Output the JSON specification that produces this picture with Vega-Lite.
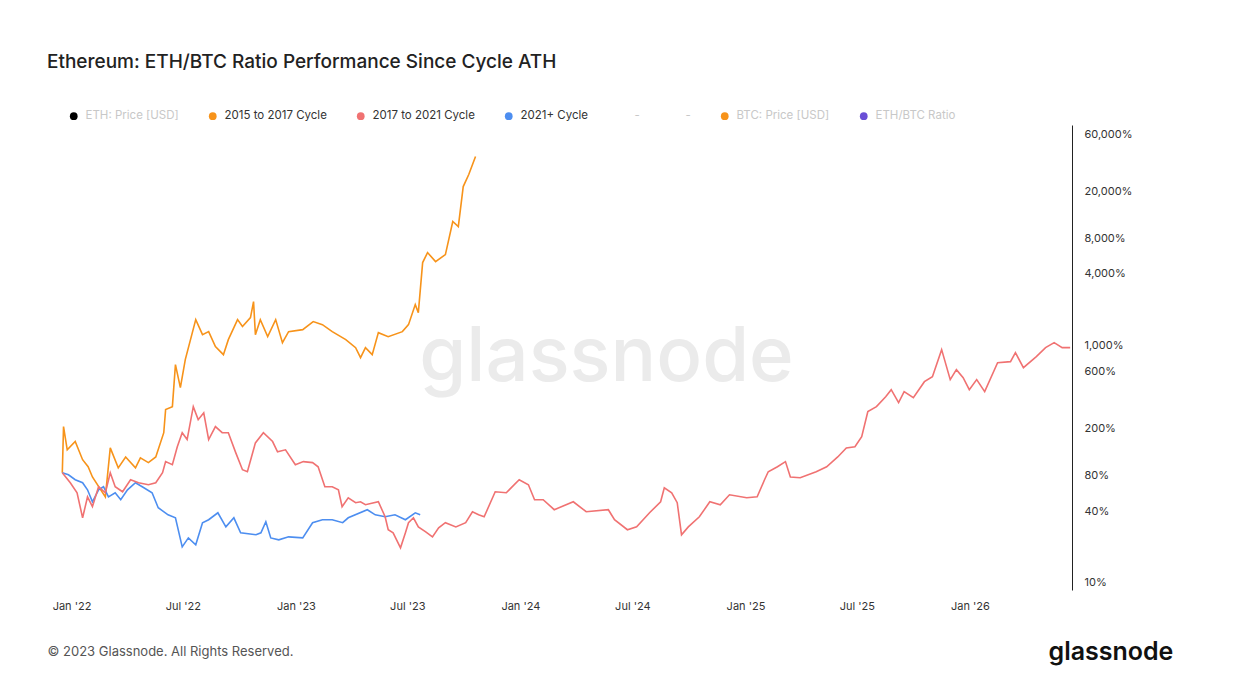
{
  "$schema": "https://vega.github.io/schema/vega-lite/v6.json",
  "width": 1014,
  "height": 465,
  "autosize": "none",
  "padding": {"left": 58, "top": 125, "right": 179, "bottom": 107},
  "background": "white",
  "config": {
    "font": "Inter",
    "view": {"stroke": null}
  },
  "title": {
    "text": "Ethereum: ETH/BTC Ratio Performance Since Cycle ATH",
    "anchor": "start",
    "frame": "group",
    "dx": -11,
    "offset": 38,
    "fontSize": 19,
    "fontWeight": 500,
    "color": "#222"
  },
  "data": {
    "values": [
      {"d": "2021-12-17", "s": "2015 to 2017 Cycle", "v": 84.6},
      {"d": "2021-12-19", "s": "2015 to 2017 Cycle", "v": 207},
      {"d": "2021-12-25", "s": "2015 to 2017 Cycle", "v": 132},
      {"d": "2022-01-07", "s": "2015 to 2017 Cycle", "v": 155},
      {"d": "2022-01-19", "s": "2015 to 2017 Cycle", "v": 109},
      {"d": "2022-01-28", "s": "2015 to 2017 Cycle", "v": 95},
      {"d": "2022-02-04", "s": "2015 to 2017 Cycle", "v": 78},
      {"d": "2022-02-25", "s": "2015 to 2017 Cycle", "v": 53},
      {"d": "2022-03-05", "s": "2015 to 2017 Cycle", "v": 137},
      {"d": "2022-03-18", "s": "2015 to 2017 Cycle", "v": 93},
      {"d": "2022-03-30", "s": "2015 to 2017 Cycle", "v": 115},
      {"d": "2022-04-15", "s": "2015 to 2017 Cycle", "v": 93},
      {"d": "2022-04-23", "s": "2015 to 2017 Cycle", "v": 113},
      {"d": "2022-05-06", "s": "2015 to 2017 Cycle", "v": 103},
      {"d": "2022-05-18", "s": "2015 to 2017 Cycle", "v": 115},
      {"d": "2022-05-31", "s": "2015 to 2017 Cycle", "v": 184},
      {"d": "2022-06-03", "s": "2015 to 2017 Cycle", "v": 288},
      {"d": "2022-06-14", "s": "2015 to 2017 Cycle", "v": 305},
      {"d": "2022-06-19", "s": "2015 to 2017 Cycle", "v": 689},
      {"d": "2022-06-27", "s": "2015 to 2017 Cycle", "v": 441},
      {"d": "2022-07-05", "s": "2015 to 2017 Cycle", "v": 759},
      {"d": "2022-07-22", "s": "2015 to 2017 Cycle", "v": 1650},
      {"d": "2022-08-02", "s": "2015 to 2017 Cycle", "v": 1233},
      {"d": "2022-08-12", "s": "2015 to 2017 Cycle", "v": 1307},
      {"d": "2022-08-23", "s": "2015 to 2017 Cycle", "v": 977},
      {"d": "2022-09-05", "s": "2015 to 2017 Cycle", "v": 836},
      {"d": "2022-09-13", "s": "2015 to 2017 Cycle", "v": 1119},
      {"d": "2022-09-28", "s": "2015 to 2017 Cycle", "v": 1650},
      {"d": "2022-10-06", "s": "2015 to 2017 Cycle", "v": 1442},
      {"d": "2022-10-19", "s": "2015 to 2017 Cycle", "v": 1716},
      {"d": "2022-10-24", "s": "2015 to 2017 Cycle", "v": 2340},
      {"d": "2022-10-27", "s": "2015 to 2017 Cycle", "v": 1233},
      {"d": "2022-11-04", "s": "2015 to 2017 Cycle", "v": 1650},
      {"d": "2022-11-16", "s": "2015 to 2017 Cycle", "v": 1186},
      {"d": "2022-11-29", "s": "2015 to 2017 Cycle", "v": 1650},
      {"d": "2022-12-10", "s": "2015 to 2017 Cycle", "v": 1056},
      {"d": "2022-12-20", "s": "2015 to 2017 Cycle", "v": 1307},
      {"d": "2023-01-12", "s": "2015 to 2017 Cycle", "v": 1359},
      {"d": "2023-01-29", "s": "2015 to 2017 Cycle", "v": 1589},
      {"d": "2023-02-13", "s": "2015 to 2017 Cycle", "v": 1497},
      {"d": "2023-03-01", "s": "2015 to 2017 Cycle", "v": 1307},
      {"d": "2023-03-23", "s": "2015 to 2017 Cycle", "v": 1119},
      {"d": "2023-04-08", "s": "2015 to 2017 Cycle", "v": 958},
      {"d": "2023-04-16", "s": "2015 to 2017 Cycle", "v": 789},
      {"d": "2023-04-24", "s": "2015 to 2017 Cycle", "v": 958},
      {"d": "2023-05-05", "s": "2015 to 2017 Cycle", "v": 836},
      {"d": "2023-05-15", "s": "2015 to 2017 Cycle", "v": 1282},
      {"d": "2023-05-31", "s": "2015 to 2017 Cycle", "v": 1186},
      {"d": "2023-06-23", "s": "2015 to 2017 Cycle", "v": 1307},
      {"d": "2023-07-03", "s": "2015 to 2017 Cycle", "v": 1497},
      {"d": "2023-07-14", "s": "2015 to 2017 Cycle", "v": 2208},
      {"d": "2023-07-19", "s": "2015 to 2017 Cycle", "v": 1890},
      {"d": "2023-07-26", "s": "2015 to 2017 Cycle", "v": 4990},
      {"d": "2023-08-03", "s": "2015 to 2017 Cycle", "v": 6060},
      {"d": "2023-08-16", "s": "2015 to 2017 Cycle", "v": 5090},
      {"d": "2023-09-01", "s": "2015 to 2017 Cycle", "v": 5830},
      {"d": "2023-09-13", "s": "2015 to 2017 Cycle", "v": 11070},
      {"d": "2023-09-22", "s": "2015 to 2017 Cycle", "v": 10040},
      {"d": "2023-09-30", "s": "2015 to 2017 Cycle", "v": 21800},
      {"d": "2023-10-09", "s": "2015 to 2017 Cycle", "v": 27550},
      {"d": "2023-10-20", "s": "2015 to 2017 Cycle", "v": 39100},

      {"d": "2021-12-17", "s": "2021+ Cycle", "v": 84.6},
      {"d": "2021-12-27", "s": "2021+ Cycle", "v": 81.4},
      {"d": "2022-01-07", "s": "2021+ Cycle", "v": 73.9},
      {"d": "2022-01-19", "s": "2021+ Cycle", "v": 69.7},
      {"d": "2022-01-27", "s": "2021+ Cycle", "v": 60.8},
      {"d": "2022-02-04", "s": "2021+ Cycle", "v": 48.2},
      {"d": "2022-02-14", "s": "2021+ Cycle", "v": 60.8},
      {"d": "2022-02-22", "s": "2021+ Cycle", "v": 64.5},
      {"d": "2022-03-02", "s": "2021+ Cycle", "v": 53},
      {"d": "2022-03-13", "s": "2021+ Cycle", "v": 57.4},
      {"d": "2022-03-22", "s": "2021+ Cycle", "v": 50.1},
      {"d": "2022-04-02", "s": "2021+ Cycle", "v": 60.8},
      {"d": "2022-04-15", "s": "2021+ Cycle", "v": 69.7},
      {"d": "2022-04-26", "s": "2021+ Cycle", "v": 64.5},
      {"d": "2022-05-12", "s": "2021+ Cycle", "v": 57.4},
      {"d": "2022-05-22", "s": "2021+ Cycle", "v": 42.9},
      {"d": "2022-06-07", "s": "2021+ Cycle", "v": 37.4},
      {"d": "2022-06-19", "s": "2021+ Cycle", "v": 35.3},
      {"d": "2022-06-30", "s": "2021+ Cycle", "v": 20.1},
      {"d": "2022-07-10", "s": "2021+ Cycle", "v": 23.9},
      {"d": "2022-07-22", "s": "2021+ Cycle", "v": 20.9},
      {"d": "2022-08-02", "s": "2021+ Cycle", "v": 32.1},
      {"d": "2022-08-12", "s": "2021+ Cycle", "v": 34.0},
      {"d": "2022-08-27", "s": "2021+ Cycle", "v": 38.9},
      {"d": "2022-09-09", "s": "2021+ Cycle", "v": 29.6},
      {"d": "2022-09-22", "s": "2021+ Cycle", "v": 35.3},
      {"d": "2022-10-03", "s": "2021+ Cycle", "v": 26.4},
      {"d": "2022-10-28", "s": "2021+ Cycle", "v": 25.4},
      {"d": "2022-11-05", "s": "2021+ Cycle", "v": 26.4},
      {"d": "2022-11-13", "s": "2021+ Cycle", "v": 32.7},
      {"d": "2022-11-21", "s": "2021+ Cycle", "v": 23.9},
      {"d": "2022-12-04", "s": "2021+ Cycle", "v": 23.0},
      {"d": "2022-12-20", "s": "2021+ Cycle", "v": 24.4},
      {"d": "2023-01-12", "s": "2021+ Cycle", "v": 23.9},
      {"d": "2023-01-28", "s": "2021+ Cycle", "v": 32.1},
      {"d": "2023-02-13", "s": "2021+ Cycle", "v": 34.0},
      {"d": "2023-03-01", "s": "2021+ Cycle", "v": 34.0},
      {"d": "2023-03-18", "s": "2021+ Cycle", "v": 32.1},
      {"d": "2023-03-27", "s": "2021+ Cycle", "v": 35.3},
      {"d": "2023-04-27", "s": "2021+ Cycle", "v": 41.3},
      {"d": "2023-05-10", "s": "2021+ Cycle", "v": 37.4},
      {"d": "2023-05-26", "s": "2021+ Cycle", "v": 36.0},
      {"d": "2023-06-11", "s": "2021+ Cycle", "v": 37.4},
      {"d": "2023-06-28", "s": "2021+ Cycle", "v": 34.0},
      {"d": "2023-07-14", "s": "2021+ Cycle", "v": 38.9},
      {"d": "2023-07-22", "s": "2021+ Cycle", "v": 37.4},

      {"d": "2021-12-17", "s": "2017 to 2021 Cycle", "v": 84.6},
      {"d": "2021-12-30", "s": "2017 to 2021 Cycle", "v": 69.7},
      {"d": "2022-01-10", "s": "2017 to 2021 Cycle", "v": 57.4},
      {"d": "2022-01-19", "s": "2017 to 2021 Cycle", "v": 35.3},
      {"d": "2022-01-27", "s": "2017 to 2021 Cycle", "v": 53},
      {"d": "2022-02-04", "s": "2017 to 2021 Cycle", "v": 43.8},
      {"d": "2022-02-14", "s": "2017 to 2021 Cycle", "v": 64.5},
      {"d": "2022-02-25", "s": "2017 to 2021 Cycle", "v": 57.4},
      {"d": "2022-03-05", "s": "2017 to 2021 Cycle", "v": 84.6},
      {"d": "2022-03-13", "s": "2017 to 2021 Cycle", "v": 64.5},
      {"d": "2022-03-25", "s": "2017 to 2021 Cycle", "v": 58.5},
      {"d": "2022-04-07", "s": "2017 to 2021 Cycle", "v": 73.9},
      {"d": "2022-04-20", "s": "2017 to 2021 Cycle", "v": 69.7},
      {"d": "2022-05-06", "s": "2017 to 2021 Cycle", "v": 67.0},
      {"d": "2022-05-18", "s": "2017 to 2021 Cycle", "v": 69.7},
      {"d": "2022-05-29", "s": "2017 to 2021 Cycle", "v": 84.6},
      {"d": "2022-06-03", "s": "2017 to 2021 Cycle", "v": 105},
      {"d": "2022-06-14", "s": "2017 to 2021 Cycle", "v": 98.9},
      {"d": "2022-06-22", "s": "2017 to 2021 Cycle", "v": 140},
      {"d": "2022-06-30", "s": "2017 to 2021 Cycle", "v": 184},
      {"d": "2022-07-08", "s": "2017 to 2021 Cycle", "v": 161},
      {"d": "2022-07-18", "s": "2017 to 2021 Cycle", "v": 305},
      {"d": "2022-07-26", "s": "2017 to 2021 Cycle", "v": 237},
      {"d": "2022-08-04", "s": "2017 to 2021 Cycle", "v": 271},
      {"d": "2022-08-12", "s": "2017 to 2021 Cycle", "v": 161},
      {"d": "2022-08-23", "s": "2017 to 2021 Cycle", "v": 207},
      {"d": "2022-09-03", "s": "2017 to 2021 Cycle", "v": 184},
      {"d": "2022-09-13", "s": "2017 to 2021 Cycle", "v": 184},
      {"d": "2022-09-25", "s": "2017 to 2021 Cycle", "v": 125},
      {"d": "2022-10-06", "s": "2017 to 2021 Cycle", "v": 89.7},
      {"d": "2022-10-14", "s": "2017 to 2021 Cycle", "v": 86.3},
      {"d": "2022-10-27", "s": "2017 to 2021 Cycle", "v": 151},
      {"d": "2022-11-09", "s": "2017 to 2021 Cycle", "v": 184},
      {"d": "2022-11-24", "s": "2017 to 2021 Cycle", "v": 155},
      {"d": "2022-12-02", "s": "2017 to 2021 Cycle", "v": 127},
      {"d": "2022-12-15", "s": "2017 to 2021 Cycle", "v": 132},
      {"d": "2022-12-31", "s": "2017 to 2021 Cycle", "v": 98.9},
      {"d": "2023-01-13", "s": "2017 to 2021 Cycle", "v": 105},
      {"d": "2023-01-28", "s": "2017 to 2021 Cycle", "v": 103},
      {"d": "2023-02-06", "s": "2017 to 2021 Cycle", "v": 95},
      {"d": "2023-02-17", "s": "2017 to 2021 Cycle", "v": 64.5},
      {"d": "2023-03-01", "s": "2017 to 2021 Cycle", "v": 64.5},
      {"d": "2023-03-11", "s": "2017 to 2021 Cycle", "v": 60.8},
      {"d": "2023-03-17", "s": "2017 to 2021 Cycle", "v": 43.8},
      {"d": "2023-03-27", "s": "2017 to 2021 Cycle", "v": 52.1},
      {"d": "2023-04-08", "s": "2017 to 2021 Cycle", "v": 47.3},
      {"d": "2023-04-16", "s": "2017 to 2021 Cycle", "v": 48.2},
      {"d": "2023-04-24", "s": "2017 to 2021 Cycle", "v": 45.5},
      {"d": "2023-05-15", "s": "2017 to 2021 Cycle", "v": 48.2},
      {"d": "2023-05-26", "s": "2017 to 2021 Cycle", "v": 36.0},
      {"d": "2023-05-31", "s": "2017 to 2021 Cycle", "v": 28.0},
      {"d": "2023-06-08", "s": "2017 to 2021 Cycle", "v": 26.4},
      {"d": "2023-06-20", "s": "2017 to 2021 Cycle", "v": 19.7},
      {"d": "2023-06-28", "s": "2017 to 2021 Cycle", "v": 26.4},
      {"d": "2023-07-03", "s": "2017 to 2021 Cycle", "v": 32.1},
      {"d": "2023-07-11", "s": "2017 to 2021 Cycle", "v": 35.3},
      {"d": "2023-07-19", "s": "2017 to 2021 Cycle", "v": 29.6},
      {"d": "2023-07-31", "s": "2017 to 2021 Cycle", "v": 26.9},
      {"d": "2023-08-11", "s": "2017 to 2021 Cycle", "v": 24.4},
      {"d": "2023-08-21", "s": "2017 to 2021 Cycle", "v": 29.1},
      {"d": "2023-09-01", "s": "2017 to 2021 Cycle", "v": 32.1},
      {"d": "2023-09-18", "s": "2017 to 2021 Cycle", "v": 29.6},
      {"d": "2023-10-04", "s": "2017 to 2021 Cycle", "v": 32.1},
      {"d": "2023-10-15", "s": "2017 to 2021 Cycle", "v": 39.7},
      {"d": "2023-10-25", "s": "2017 to 2021 Cycle", "v": 37.4},
      {"d": "2023-11-03", "s": "2017 to 2021 Cycle", "v": 36.0},
      {"d": "2023-11-21", "s": "2017 to 2021 Cycle", "v": 58.5},
      {"d": "2023-12-09", "s": "2017 to 2021 Cycle", "v": 57.4},
      {"d": "2023-12-30", "s": "2017 to 2021 Cycle", "v": 73.9},
      {"d": "2024-01-14", "s": "2017 to 2021 Cycle", "v": 67.0},
      {"d": "2024-01-24", "s": "2017 to 2021 Cycle", "v": 50.1},
      {"d": "2024-02-07", "s": "2017 to 2021 Cycle", "v": 50.1},
      {"d": "2024-02-25", "s": "2017 to 2021 Cycle", "v": 41.3},
      {"d": "2024-03-27", "s": "2017 to 2021 Cycle", "v": 48.2},
      {"d": "2024-04-17", "s": "2017 to 2021 Cycle", "v": 39.7},
      {"d": "2024-05-23", "s": "2017 to 2021 Cycle", "v": 41.3},
      {"d": "2024-06-02", "s": "2017 to 2021 Cycle", "v": 34.0},
      {"d": "2024-06-23", "s": "2017 to 2021 Cycle", "v": 28.0},
      {"d": "2024-07-08", "s": "2017 to 2021 Cycle", "v": 29.6},
      {"d": "2024-07-29", "s": "2017 to 2021 Cycle", "v": 38.9},
      {"d": "2024-08-16", "s": "2017 to 2021 Cycle", "v": 48.2},
      {"d": "2024-08-22", "s": "2017 to 2021 Cycle", "v": 63.2},
      {"d": "2024-09-03", "s": "2017 to 2021 Cycle", "v": 57.4},
      {"d": "2024-09-12", "s": "2017 to 2021 Cycle", "v": 47.3},
      {"d": "2024-09-19", "s": "2017 to 2021 Cycle", "v": 25.4},
      {"d": "2024-09-30", "s": "2017 to 2021 Cycle", "v": 29.6},
      {"d": "2024-10-18", "s": "2017 to 2021 Cycle", "v": 36.0},
      {"d": "2024-11-04", "s": "2017 to 2021 Cycle", "v": 48.2},
      {"d": "2024-11-21", "s": "2017 to 2021 Cycle", "v": 45.5},
      {"d": "2024-12-06", "s": "2017 to 2021 Cycle", "v": 55.2},
      {"d": "2025-01-03", "s": "2017 to 2021 Cycle", "v": 52.1},
      {"d": "2025-01-20", "s": "2017 to 2021 Cycle", "v": 53},
      {"d": "2025-02-01", "s": "2017 to 2021 Cycle", "v": 73.9},
      {"d": "2025-02-07", "s": "2017 to 2021 Cycle", "v": 86.3},
      {"d": "2025-02-22", "s": "2017 to 2021 Cycle", "v": 95},
      {"d": "2025-03-07", "s": "2017 to 2021 Cycle", "v": 105},
      {"d": "2025-03-15", "s": "2017 to 2021 Cycle", "v": 78},
      {"d": "2025-03-31", "s": "2017 to 2021 Cycle", "v": 76.8},
      {"d": "2025-04-26", "s": "2017 to 2021 Cycle", "v": 86.3},
      {"d": "2025-05-13", "s": "2017 to 2021 Cycle", "v": 95},
      {"d": "2025-05-31", "s": "2017 to 2021 Cycle", "v": 115},
      {"d": "2025-06-14", "s": "2017 to 2021 Cycle", "v": 137},
      {"d": "2025-06-28", "s": "2017 to 2021 Cycle", "v": 140},
      {"d": "2025-07-09", "s": "2017 to 2021 Cycle", "v": 170},
      {"d": "2025-07-19", "s": "2017 to 2021 Cycle", "v": 277},
      {"d": "2025-08-02", "s": "2017 to 2021 Cycle", "v": 305},
      {"d": "2025-08-17", "s": "2017 to 2021 Cycle", "v": 370},
      {"d": "2025-08-26", "s": "2017 to 2021 Cycle", "v": 424},
      {"d": "2025-09-07", "s": "2017 to 2021 Cycle", "v": 330},
      {"d": "2025-09-16", "s": "2017 to 2021 Cycle", "v": 408},
      {"d": "2025-10-01", "s": "2017 to 2021 Cycle", "v": 363},
      {"d": "2025-10-19", "s": "2017 to 2021 Cycle", "v": 495},
      {"d": "2025-11-01", "s": "2017 to 2021 Cycle", "v": 546},
      {"d": "2025-11-16", "s": "2017 to 2021 Cycle", "v": 922},
      {"d": "2025-11-30", "s": "2017 to 2021 Cycle", "v": 515},
      {"d": "2025-12-10", "s": "2017 to 2021 Cycle", "v": 625},
      {"d": "2025-12-21", "s": "2017 to 2021 Cycle", "v": 535},
      {"d": "2025-12-31", "s": "2017 to 2021 Cycle", "v": 424},
      {"d": "2026-01-12", "s": "2017 to 2021 Cycle", "v": 515},
      {"d": "2026-01-25", "s": "2017 to 2021 Cycle", "v": 408},
      {"d": "2026-02-15", "s": "2017 to 2021 Cycle", "v": 716},
      {"d": "2026-03-08", "s": "2017 to 2021 Cycle", "v": 730},
      {"d": "2026-03-16", "s": "2017 to 2021 Cycle", "v": 870},
      {"d": "2026-03-29", "s": "2017 to 2021 Cycle", "v": 650},
      {"d": "2026-04-19", "s": "2017 to 2021 Cycle", "v": 805},
      {"d": "2026-05-04", "s": "2017 to 2021 Cycle", "v": 958},
      {"d": "2026-05-18", "s": "2017 to 2021 Cycle", "v": 1056},
      {"d": "2026-05-31", "s": "2017 to 2021 Cycle", "v": 958},
      {"d": "2026-06-13", "s": "2017 to 2021 Cycle", "v": 958}
    ]
  },
  "layer": [
    {
      "mark": {"type": "text", "fontSize": 76, "font": "Inter", "fontWeight": 500, "color": "#ebebeb"},
      "data": {"values": [{"t": "glassnode"}]},
      "encoding": {
        "x": {"datum": {"year": 2024, "month": 5, "date": 20}, "type": "temporal"},
        "y": {"datum": 780, "type": "quantitative"},
        "text": {"field": "t"}
      }
    },
    {
      "mark": {"type": "line", "strokeWidth": 1.6, "clip": true},
      "encoding": {
        "x": {
          "field": "d",
          "type": "temporal",
          "scale": {"domain": ["2021-12-10", "2026-06-16"]},
          "axis": {
            "values": ["2022-01-01", "2022-07-01", "2023-01-01", "2023-07-01", "2024-01-01", "2024-07-01", "2025-01-01", "2025-07-01", "2026-01-01"],
            "labelExpr": "timeFormat(datum.value, \"%b '%y\")",
            "grid": false,
            "domain": false,
            "ticks": false,
            "labelPadding": 10,
            "labelFontSize": 11,
            "labelColor": "#333",
            "title": "© 2023 Glassnode. All Rights Reserved.",
            "titleAnchor": "start",
            "titleAlign": "left",
            "titleX": -11,
            "titleY": 55,
            "titleFontSize": 13,
            "titleFontWeight": "normal",
            "titleColor": "#555"
          }
        },
        "y": {
          "field": "v",
          "type": "quantitative",
          "scale": {"type": "log", "domain": [8.7, 72000], "nice": false},
          "axis": {
            "orient": "right",
            "values": [10, 20, 40, 80, 100, 200, 400, 600, 800, 1000, 2000, 4000, 8000, 10000, 20000, 40000, 60000],
            "labelExpr": "indexof([10,40,80,200,600,1000,4000,8000,20000,60000], datum.value) >= 0 ? format(datum.value, ',') + '%' : ''",
            "gridColor": "#eeeeee",
            "ticks": false,
            "domainColor": "#222",
            "labelFontSize": 11,
            "labelColor": "#333",
            "labelPadding": 12,
            "title": "glassnode",
            "titleAngle": 0,
            "titleX": -24,
            "titleY": 534,
            "titleAlign": "left",
            "titleBaseline": "alphabetic",
            "titleFontSize": 25,
            "titleFontWeight": 600,
            "titleColor": "#111"
          }
        },
        "color": {
          "field": "s",
          "type": "nominal",
          "scale": {
            "domain": ["ETH: Price [USD]", "2015 to 2017 Cycle", "2017 to 2021 Cycle", "2021+ Cycle", "-", "- ", "BTC: Price [USD]", "ETH/BTC Ratio"],
            "range": ["#000000", "#f7931a", "#f07272", "#4d8ef0", "rgba(0,0,0,0)", "rgba(0,0,0,0)", "#f7931a", "#6a4fd6"]
          },
          "legend": {
            "orient": "none",
            "legendX": 10,
            "legendY": -15,
            "direction": "horizontal",
            "columns": 8,
            "title": null,
            "symbolType": "circle",
            "symbolSize": 60,
            "symbolStrokeWidth": 0,
            "labelFontSize": 11.5,
            "columnPadding": 28,
            "labelOffset": 6,
            "encode": {
              "symbols": {"update": {"fill": {"signal": "scale('color', datum.value)"}, "strokeWidth": {"value": 0}}},
              "labels": {"update": {"fill": {"signal": "indexof(['ETH: Price [USD]','BTC: Price [USD]','ETH/BTC Ratio','-','- '], datum.label) >= 0 ? '#c8c8c8' : '#333333'"}}}
            }
          }
        }
      }
    }
  ]
}
